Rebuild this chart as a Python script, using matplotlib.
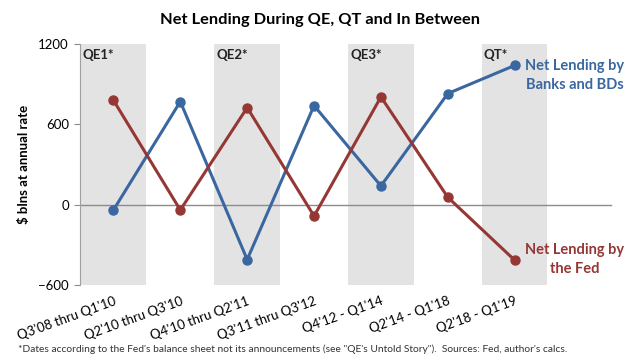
import matplotlib
matplotlib.use("Agg")
import matplotlib.pyplot as plt
import numpy as np

# data ($ blns at annual rate)
periods = ["Q3'08 thru Q1'10", "Q2'10 thru Q3'10", "Q4'10 thru Q2'11",
           "Q3'11 thru Q3'12", "Q4'12 - Q1'14", "Q2'14 - Q1'18", "Q2'18 - Q1'19"]
banks = [-40, 770, -410, 740, 140, 830, 1040]
fed = [780, -40, 725, -85, 805, 55, -415]

band_pos = [0, 2, 4, 6]
band_labels = ["QE1*", "QE2*", "QE3*", "QT*"]

y_ticks = [-600, 0, 600, 1200]

BLUE = "#3A67A0"
RED = "#953735"
GRAY_BAND = "#E3E3E3"

plt.rcParams["font.family"] = ["Lato", "DejaVu Sans"]

fig = plt.figure(figsize=(6.42, 3.64), dpi=100)
ax = fig.add_axes([80 / 642, 79 / 364, 535 / 642, 241 / 364])

ymin, ymax = y_ticks[0], y_ticks[-1]
ax.bar(band_pos, [ymax - ymin] * len(band_pos), bottom=ymin, width=0.98,
       color=GRAY_BAND, zorder=0)
for p, lab in zip(band_pos, band_labels):
    ax.text(p - 0.46, ymax - 40, lab, ha="left", va="top",
            fontsize=9.5, fontweight="bold", color="#222222")

ax.axhline(0, xmin=0, xmax=531 / 535, color="#8C8C8C", lw=1, zorder=1)

x = np.arange(len(periods))
ax.plot(x, banks, color=BLUE, lw=2.2, marker="o", ms=6.5, zorder=3)
ax.plot(x, fed, color=RED, lw=2.2, marker="o", ms=6.5, zorder=3)

ax.text(6.9, banks[-1] - 75, "Net Lending by\nBanks and BDs", ha="center",
        va="center", fontsize=10.5, fontweight="bold", color=BLUE,
        linespacing=1.4)
ax.text(6.9, fed[-1] + 5, "Net Lending by\nthe Fed", ha="center",
        va="center", fontsize=10.5, fontweight="bold", color=RED,
        linespacing=1.4)

ax.set_xlim(-0.5, 7.5)
ax.set_ylim(ymin, ymax)
ax.set_yticks(y_ticks)
ax.set_xticks(x)
ax.set_xticklabels(periods, rotation=20, ha="right", rotation_mode="anchor",
                   fontsize=9.5)
ax.tick_params(axis="x", length=0, pad=7)
ax.tick_params(axis="y", labelsize=9.5, length=4, color="#8C8C8C", pad=4)

for s in ["top", "right", "bottom"]:
    ax.spines[s].set_visible(False)
ax.spines["left"].set_color("#A0A0A0")

ax.set_ylabel("$ blns at annual rate", fontsize=9.5, fontweight="bold",
              labelpad=6)

fig.text(320 / 642, 1 - 20 / 364, "Net Lending During QE, QT and In Between",
         ha="center", va="center", fontsize=11.8, fontweight="bold")
fig.text(18 / 642, 1 - 349 / 364,
         "*Dates according to the Fed's balance sheet not its announcements "
         "(see \"QE's Untold Story\").  Sources: Fed, author's calcs.",
         ha="left", va="center", fontsize=7.4, color="#333333")

fig.savefig("out.png", dpi=100)
